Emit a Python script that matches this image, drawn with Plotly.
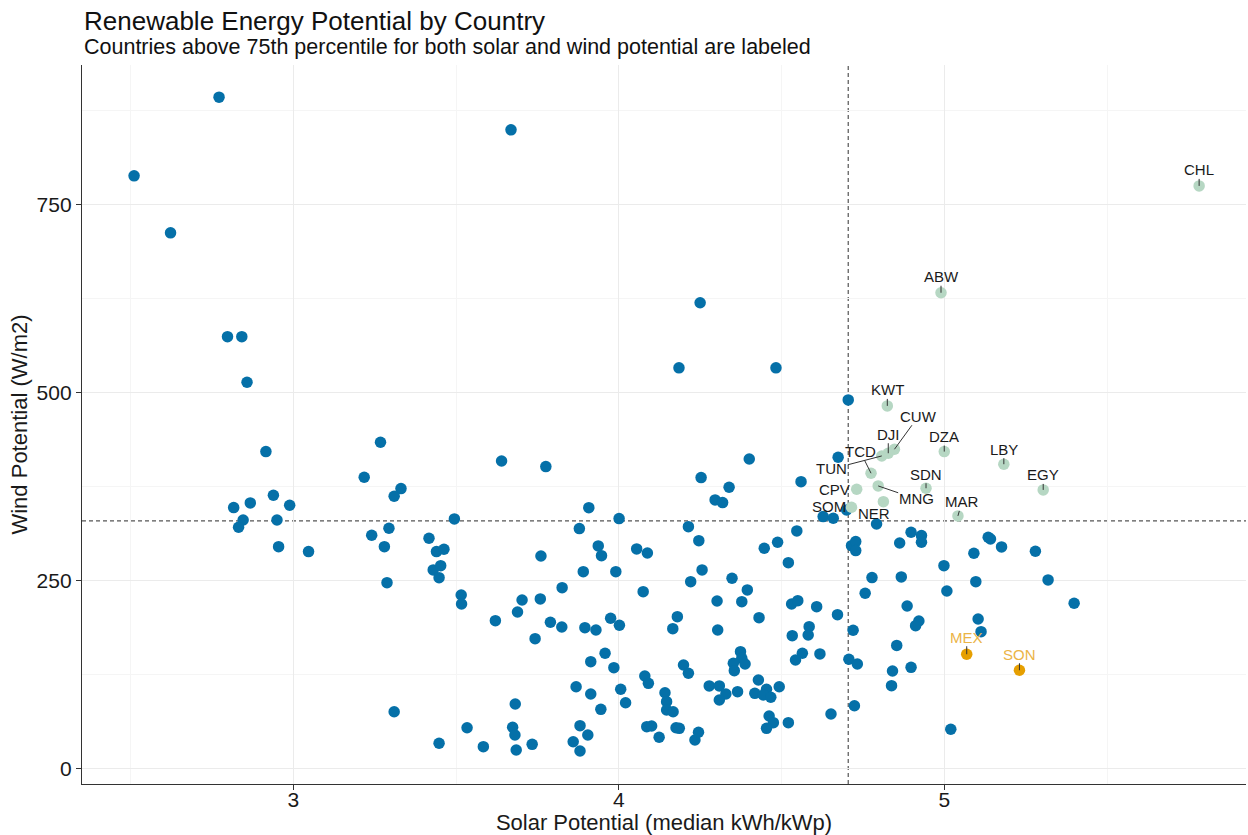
import plotly.graph_objects as go

# ---------------- data ----------------
blue_solar = [2.511, 2.772, 2.623, 2.798, 2.842, 2.858, 2.916, 3.268, 3.669, 4.185, 4.250, 4.483, 4.705,
              3.218, 3.331, 3.310, 2.939, 2.868, 2.817, 2.989, 2.846, 2.832, 2.950, 3.241, 3.294, 3.280, 2.955, 3.047, 3.288, 3.310,
              3.640, 3.776, 4.253, 4.401, 4.674, 4.339, 4.296, 4.319, 4.560, 3.908, 3.495, 4.001, 3.879, 4.214, 4.628, 4.659,
              4.547, 4.246, 3.417, 3.440, 3.463, 3.430, 3.453, 3.448, 3.761, 3.937, 3.947, 4.055, 4.088, 4.447, 4.488, 4.521,
              3.891, 3.991, 4.256, 4.221, 4.348, 4.075, 3.826, 3.516, 3.517, 3.703, 3.689, 3.759, 3.621, 3.790, 3.825, 3.743,
              3.896, 3.930, 3.975, 4.002, 4.395, 4.378, 4.302, 4.304, 4.180, 4.166, 4.431, 4.531, 4.550, 4.585, 4.582, 4.533,
              4.564, 4.543, 3.958, 3.914, 3.985, 4.199, 4.214, 4.080, 4.091, 3.869, 3.914, 3.945, 4.006, 4.021, 3.682, 4.142,
              4.147, 4.147, 4.167, 4.278, 4.309, 4.329, 4.309, 4.365, 4.374, 4.378, 4.352, 4.355, 4.388, 4.429, 4.454, 4.418,
              4.444, 4.467, 4.493, 4.462, 4.475, 4.454, 4.521, 4.086, 4.101, 4.124, 4.176, 4.186, 4.234, 4.245, 3.881, 3.905,
              3.860, 3.881, 3.674, 3.681, 3.685, 3.734, 3.534, 3.584, 3.448,
              4.700, 4.792, 4.898, 4.930, 4.930, 4.863, 4.715, 4.728, 4.728, 5.135, 5.142, 5.176, 5.091, 5.280, 4.999, 5.097,
              5.319, 5.008, 4.778, 4.868, 4.757, 5.399, 4.886, 4.608, 4.672, 5.104, 5.113, 4.922, 4.912, 4.720, 4.854, 4.618,
              4.707, 4.733, 4.841, 4.898, 4.838, 4.724, 4.652, 5.020]
blue_wind = [788.5, 893.2, 712.6, 574.5, 574.5, 513.8, 421.5, 434.0, 849.7, 533.0, 619.6, 533.0, 490.3,
             387.4, 372.3, 362.1, 363.4, 353.2, 347.0, 350.1, 330.5, 320.8, 330.5, 310.2, 319.5, 295.0, 295.0, 288.4, 247.1, 75.3,
             409.0, 401.5, 386.9, 411.7, 414.0, 374.0, 357.2, 353.6, 381.5, 346.9, 331.9, 332.3, 319.0, 321.6, 335.0, 332.8,
             315.9, 303.0, 306.2, 288.4, 291.5, 264.0, 269.7, 253.7, 282.6, 296.0, 283.0, 292.0, 286.6, 292.9, 300.9, 273.7,
             261.7, 261.7, 264.0, 248.4, 252.9, 235.1, 240.4, 230.7, 218.7, 224.0, 208.0, 225.4, 196.5, 194.4, 188.1, 172.5,
             187.2, 184.1, 199.7, 190.4, 237.4, 221.8, 222.7, 184.1, 201.8, 185.8, 200.5, 218.7, 223.1, 188.5, 177.4, 176.5,
             153.1, 144.2, 153.1, 141.9, 133.9, 137.5, 126.5, 122.9, 113.1, 108.6, 98.9, 78.5, 105.2, 87.3, 85.6, 100.6,
             88.7, 77.6, 75.3, 109.6, 109.6, 98.9, 90.9, 102.0, 155.2, 146.4, 139.8, 129.9, 138.8, 117.5, 105.2, 99.8,
             97.6, 94.5, 108.6, 69.6, 60.7, 53.2, 60.7, 55.4, 56.3, 41.3, 54.0, 53.2, 37.7, 47.9, 56.7, 44.3,
             35.4, 23.0, 54.6, 44.3, 24.4, 31.9, 54.0, 28.8, 33.3,
             343.8, 325.2, 314.2, 309.7, 300.8, 299.9, 296.3, 301.7, 289.7, 307.5, 305.2, 294.6, 286.2, 288.9, 269.7, 248.4,
             250.7, 236.0, 253.8, 254.7, 233.0, 219.6, 216.0, 215.1, 204.5, 198.7, 181.8, 196.0, 189.8, 183.7, 163.5, 152.2,
             145.1, 138.8, 129.5, 134.4, 110.0, 83.3, 72.3, 51.9]

top_codes = ["CHL", "ABW", "KWT", "CUW", "DJI", "DZA", "TCD", "LBY", "TUN", "SDN", "EGY", "CPV", "MNG", "MAR", "SOM", "NER"]
top_solar = [5.783, 4.990, 4.825, 4.847, 4.828, 5.000, 4.775, 5.183, 4.808, 4.944, 5.304, 4.731, 4.797, 5.042, 4.715, 4.813]
top_wind = [775.1, 632.9, 482.3, 424.6, 419.3, 421.5, 392.7, 404.7, 415.7, 372.7, 370.5, 371.4, 375.8, 335.9, 347.4, 354.9]

hl_codes = ["MEX", "SON"]
hl_solar = [5.069, 5.231]
hl_wind = [151.8, 130.5]

solar_p75 = 4.705
wind_p75 = 329.2

# label offsets in pixels (dx, dy, draw segment)
label_offsets = {
    "CHL": (0, -16, True), "ABW": (0, -16, True), "KWT": (0, -16, True), "CUW": (24, -33, True),
    "DJI": (0, -19, True), "DZA": (0, -15, True), "TCD": (-11, -22, True), "LBY": (0, -15, True),
    "TUN": (-50, 13, True), "SDN": (0, -14, True), "EGY": (0, -15, True), "CPV": (-22, 0, False),
    "MNG": (38, 13, True), "MAR": (4, -14, True), "SOM": (-22, -1, False), "NER": (-9, 12, False),
    "MEX": (0, -17, True), "SON": (0, -16, True),
}

BLUE = "#0570a8"
GREEN = "#b6d7c3"
ORANGE = "#e69f00"
FONT = "Liberation Sans, Arial, sans-serif"

fig = go.Figure()
fig.add_trace(go.Scatter(x=blue_solar, y=blue_wind, mode="markers",
                         marker=dict(color=BLUE, size=11.5, line=dict(width=0)), showlegend=False))
fig.add_trace(go.Scatter(x=top_solar, y=top_wind, mode="markers",
                         marker=dict(color=GREEN, size=11.5, line=dict(width=0)), showlegend=False))
fig.add_trace(go.Scatter(x=hl_solar, y=hl_wind, mode="markers",
                         marker=dict(color=ORANGE, size=11.5, line=dict(width=0)), showlegend=False))

annotations = []
for codes, xs, ys, col in [(top_codes, top_solar, top_wind, "#1a1a1a"),
                            (hl_codes, hl_solar, hl_wind, "#ebb446")]:
    for c, xv, yv in zip(codes, xs, ys):
        dx, dy, seg = label_offsets[c]
        if seg:
            annotations.append(dict(x=xv, y=yv, xref="x", yref="y", text=c, showarrow=True,
                                    ax=dx, ay=dy, arrowhead=0, arrowwidth=1, arrowcolor="#333333",
                                    standoff=0, font=dict(family=FONT, size=15, color=col), borderpad=0))
        else:
            annotations.append(dict(x=xv, y=yv, xref="x", yref="y", text=c, showarrow=False,
                                    xshift=dx, yshift=-dy, font=dict(family=FONT, size=15, color=col)))

annotations.append(dict(text="Renewable Energy Potential by Country", xref="paper", yref="paper",
                        x=0, y=1.061, xanchor="left", yanchor="middle", showarrow=False,
                        font=dict(family=FONT, size=26, color="#111111")))
annotations.append(dict(text="Countries above 75th percentile for both solar and wind potential are labeled",
                        xref="paper", yref="paper", x=0, y=1.025, xanchor="left", yanchor="middle",
                        showarrow=False, font=dict(family=FONT, size=21.5, color="#111111")))

shapes = [
    dict(type="line", xref="x", yref="paper", x0=solar_p75, x1=solar_p75, y0=0, y1=1,
         line=dict(color="#555555", width=1.2, dash="4px,3px"), layer="below"),
    dict(type="line", xref="paper", yref="y", x0=0, x1=1, y0=wind_p75, y1=wind_p75,
         line=dict(color="#555555", width=1.2, dash="4px,3px"), layer="below"),
]

fig.update_layout(
    width=1248, height=835,
    margin=dict(l=82, r=2, t=65, b=51),
    paper_bgcolor="white", plot_bgcolor="white",
    font=dict(family=FONT, color="#1a1a1a"),
    annotations=annotations, shapes=shapes,
    xaxis=dict(range=[2.351, 5.927], tick0=0, dtick=1, showgrid=True, gridcolor="#ebebeb", gridwidth=1,
               minor=dict(dtick=0.5, tick0=0, showgrid=True, gridcolor="#f5f5f5", gridwidth=1),
               zeroline=False, showline=True, linecolor="#333333", linewidth=1.3,
               ticks="outside", ticklen=5, tickcolor="#333333", automargin=False,
               ticklabelstandoff=-8,
               tickfont=dict(size=21, color="#1a1a1a"),
               title=dict(text="Solar Potential (median kWh/kWp)", font=dict(size=22, color="#1a1a1a"), standoff=0)),
    yaxis=dict(range=[-20.9, 936], tick0=0, dtick=250, showgrid=True, gridcolor="#ebebeb", gridwidth=1,
               minor=dict(dtick=125, tick0=0, showgrid=True, gridcolor="#f5f5f5", gridwidth=1),
               zeroline=False, showline=True, linecolor="#333333", linewidth=1.3,
               ticks="outside", ticklen=5, tickcolor="#333333", automargin=False,
               tickfont=dict(size=21, color="#1a1a1a"),
               title=dict(text="Wind Potential (W/m2)", font=dict(size=22, color="#1a1a1a"), standoff=2)),
)

fig.write_html("out.html")
